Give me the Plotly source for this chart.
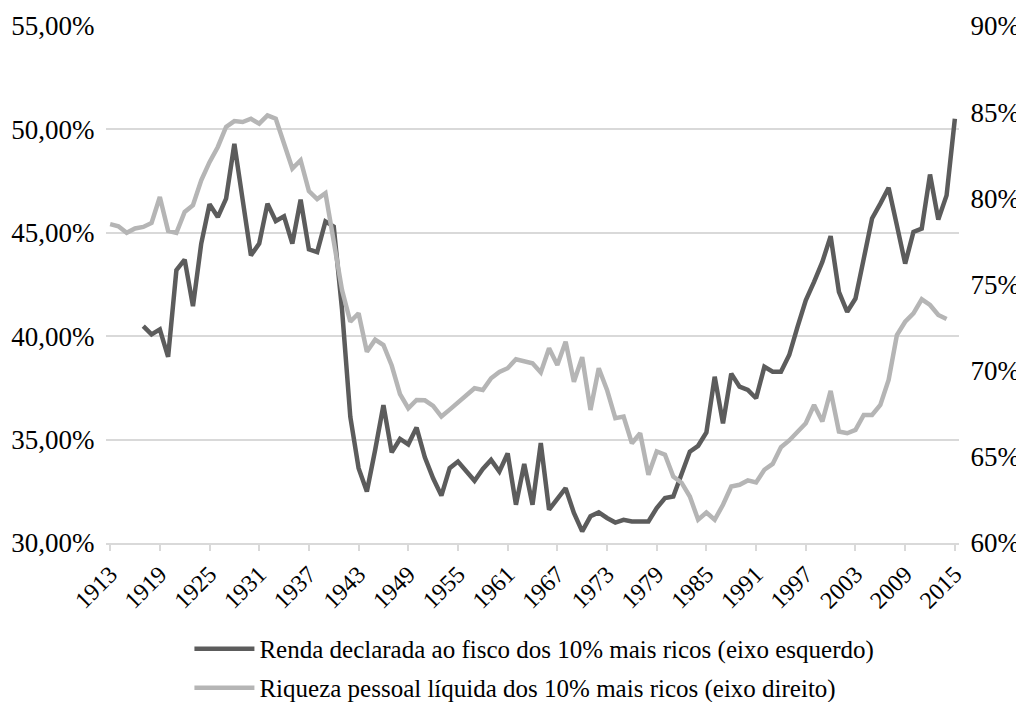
import plotly.graph_objects as go

# anos
anos_renda = list(range(1917, 2016))
anos_riqueza = list(range(1913, 2015))

# renda declarada ao fisco dos 10% mais ricos (%), eixo esquerdo
renda = [
    40.49, 40.09, 40.33, 39.00, 43.19, 43.70, 41.45, 44.48, 46.38, 45.76,
    46.65, 49.30, 46.60, 43.91, 44.48, 46.41, 45.57, 45.80, 44.48, 46.60,
    44.20, 44.07, 45.55, 45.30, 41.30, 36.10, 33.62, 32.49, 34.50, 36.67,
    34.38, 35.03, 34.77, 35.58, 34.14, 33.13, 32.29, 33.62, 33.94, 33.46,
    33.01, 33.58, 34.02, 33.46, 34.33, 31.85, 33.82, 31.85, 34.83, 31.61,
    32.09, 32.65, 31.45, 30.56, 31.29, 31.48, 31.21, 30.99, 31.12, 31.04,
    31.04, 31.04, 31.69, 32.17, 32.25, 33.30, 34.42, 34.70, 35.35, 38.04,
    35.78, 38.19, 37.56, 37.40, 37.00, 38.52, 38.28, 38.28, 39.09, 40.45,
    41.74, 42.63, 43.59, 44.84, 42.14, 41.18, 41.82, 43.75, 45.69, 46.41,
    47.18, 45.36, 43.51, 45.04, 45.20, 47.82, 45.64, 46.81, 50.51,
]

# riqueza pessoal liquida dos 10% mais ricos (%), eixo direito
riqueza = [
    78.50, 78.38, 78.00, 78.25, 78.34, 78.57, 80.08, 78.11, 78.00, 79.21,
    79.60, 81.05, 82.10, 82.98, 84.14, 84.48, 84.43, 84.62, 84.33, 84.81,
    84.62, 83.08, 81.73, 82.21, 80.42, 79.96, 80.30, 77.50, 74.68, 72.84,
    73.33, 71.10, 71.80, 71.49, 70.30, 68.64, 67.82, 68.30, 68.28, 67.96,
    67.34, 67.74, 68.13, 68.56, 68.98, 68.88, 69.56, 69.92, 70.14, 70.66,
    70.54, 70.43, 69.90, 71.30, 70.33, 71.68, 69.36, 70.78, 67.72, 70.14,
    68.88, 67.24, 67.34, 65.79, 66.37, 63.96, 65.31, 65.12, 63.86, 63.50,
    62.70, 61.35, 61.77, 61.35, 62.22, 63.28, 63.38, 63.63, 63.51, 64.25,
    64.59, 65.56, 65.95, 66.41, 66.95, 68.01, 67.05, 68.83, 66.47, 66.37,
    66.56, 67.43, 67.43, 68.01, 69.46, 72.07, 72.84, 73.33, 74.14, 73.81,
    73.23, 73.00,
]

anos_rotulo = list(range(1913, 2016, 6))

fonte = "Liberation Serif"

fig = go.Figure()

fig.add_trace(go.Scatter(
    x=anos_renda, y=renda, mode="lines",
    name="Renda declarada ao fisco dos 10% mais ricos (eixo esquerdo)",
    line=dict(color="#5c5c5c", width=4.5),
    legend="legend",
))
fig.add_trace(go.Scatter(
    x=anos_riqueza, y=riqueza, mode="lines", yaxis="y2",
    name="Riqueza pessoal líquida dos 10% mais ricos (eixo direito)",
    line=dict(color="#b5b5b5", width=4.5),
    legend="legend2",
))

# the page body adds an 8px margin, so the figure is 8px smaller than the window
fig.update_layout(
    width=1016, height=694,
    margin=dict(l=97.5, r=65, t=17.5, b=158.7, autoexpand=False),
    plot_bgcolor="white", paper_bgcolor="white",
    separators=",.",
    showlegend=True,
    font=dict(family=fonte, size=25, color="black"),
    xaxis=dict(
        range=[1912.5, 2015.5], tickvals=anos_rotulo, tickangle=-45,
        showgrid=False, showline=True, linecolor="#d9d9d9", linewidth=1.5,
        ticks="outside", ticklen=6, tickcolor="#d9d9d9", tickwidth=1.5,
        zeroline=False, automargin=False, tickfont=dict(size=24),
    ),
    yaxis=dict(
        range=[30, 55], dtick=5, tickformat=".2f", ticksuffix="%",
        showgrid=True, gridcolor="#d9d9d9", gridwidth=1.5, zeroline=False,
        ticks="outside", ticklen=5, tickcolor="white", automargin=False,
        tickfont=dict(size=27),
    ),
    yaxis2=dict(
        range=[60, 90], dtick=5, tickformat="d", ticksuffix="%",
        overlaying="y", side="right", showgrid=False, zeroline=False,
        ticks="outside", ticklen=5, tickcolor="white", automargin=False,
        tickfont=dict(size=27),
    ),
    legend=dict(x=0.0978, y=0.0764, xref="paper", yref="container",
                xanchor="left", yanchor="middle", itemwidth=60,
                bgcolor="rgba(0,0,0,0)", font=dict(size=25)),
    legend2=dict(x=0.0978, y=0.0202, xref="paper", yref="container",
                 xanchor="left", yanchor="middle", itemwidth=60,
                 bgcolor="rgba(0,0,0,0)", font=dict(size=25)),
)

fig.write_html("out.html")
